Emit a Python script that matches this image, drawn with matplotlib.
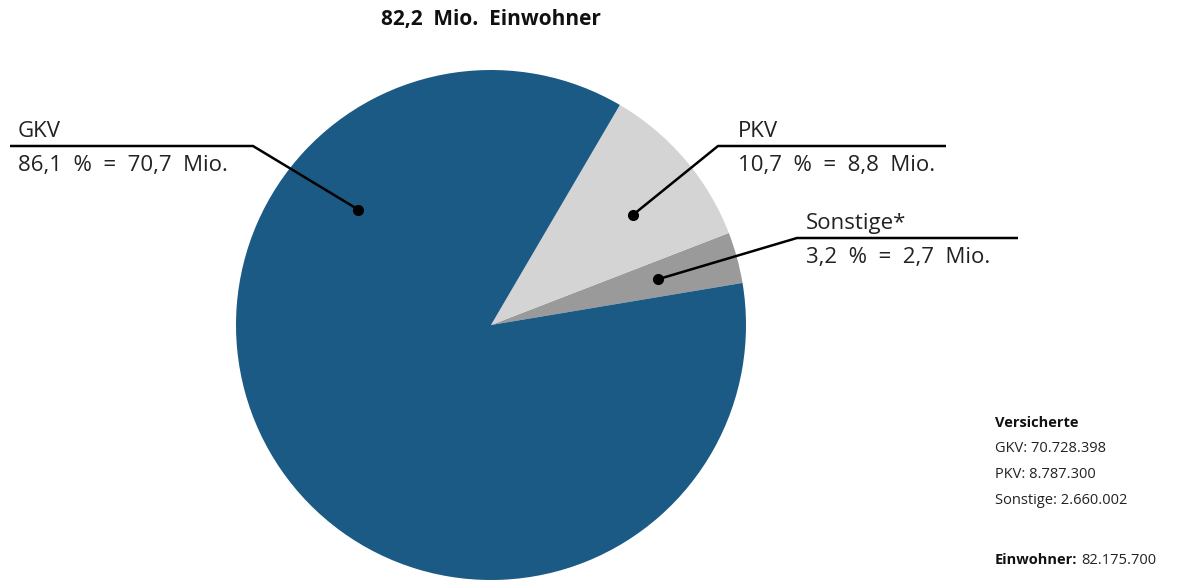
import numpy as np
from matplotlib import pyplot as plt

labels = ["GKV", "PKV", "Sonstige*"]
insured = [70728398, 8787300, 2660002]
shares = ["86,1  %  =  70,7  Mio.", "10,7  %  =  8,8  Mio.", "3,2  %  =  2,7  Mio."]
inhabitants = "82.175.700"
title = "82,2  Mio.  Einwohner"

colors = ["#1a5a84", "#d4d4d4", "#9a9a9a"]

plt.rcParams["font.family"] = ["Open Sans", "DejaVu Sans"]

W, H = 1203, 580
fig = plt.figure(figsize=(W / 100, H / 100), dpi=100)
ax = fig.add_axes([0, 0, 1, 1])
ax.set_xlim(0, W)
ax.set_ylim(0, H)
ax.set_aspect("equal")
ax.axis("off")

cx, cy, R = 491, H - 325, 255
# order counterclockwise: Sonstige, PKV, GKV
order = [2, 1, 0]
wedges, _ = ax.pie([insured[i] for i in order], colors=[colors[i] for i in order],
                   startangle=9.5, counterclock=True, center=(cx, cy), radius=R,
                   wedgeprops=dict(linewidth=0))
ax.set_xlim(0, W)
ax.set_ylim(0, H)

def dot_pos(wedge, frac=0.69, angle=None):
    if angle is None:
        angle = (wedge.theta1 + wedge.theta2) / 2
    a = np.deg2rad(angle)
    return cx + frac * R * np.cos(a), cy + frac * R * np.sin(a)

# label layouts: dot angle/radius, elbow, line end, text x
layout = {
    0: dict(angle=139, frac=0.69, elbow=(253, H - 146), end=(10, H - 146), tx=18),
    1: dict(angle=37.8, frac=0.705, elbow=(718, H - 146), end=(946, H - 146), tx=738),
    2: dict(angle=None, frac=0.68, elbow=(797, H - 238), end=(1018, H - 238), tx=806),
}
for k, i in enumerate(order):
    lay = layout[i]
    px, py = dot_pos(wedges[k], frac=lay["frac"], angle=lay["angle"])
    ex, ey = lay["elbow"]
    lx, ly = lay["end"]
    ax.plot([px, ex, lx], [py, ey, ly], color="black", lw=1.8, solid_capstyle="butt")
    ax.plot(px, py, "o", color="black", ms=7)
    ax.text(lay["tx"], ey + 4, labels[i], fontsize=16, color="#222222",
            ha="left", va="bottom")
    ax.text(lay["tx"], ey - 9, shares[i], fontsize=16, color="#222222",
            ha="left", va="top")

ax.text(cx, H - 20, title, fontsize=15, fontweight="bold", ha="center",
        va="center", color="#111111")

bx = 995
ax.text(bx, H - 423, "Versicherte", fontsize=10.5, fontweight="bold",
        ha="left", va="center", color="#111111")
for j, (lab, val) in enumerate(zip(["GKV", "PKV", "Sonstige"], insured)):
    s = f"{val:,}".replace(",", ".")
    ax.text(bx, H - 448 - 26 * j, f"{lab}: {s}", fontsize=10.5,
            ha="left", va="center", color="#222222")
t = ax.text(bx, H - 560, "Einwohner:", fontsize=10.5, fontweight="bold",
            ha="left", va="center", color="#111111")
ax.annotate(inhabitants, xycoords=t, xy=(1, 0.5), xytext=(3, 0),
            textcoords="offset points", fontsize=10.5,
            ha="left", va="center", color="#222222")

fig.savefig("out.png", dpi=100)
